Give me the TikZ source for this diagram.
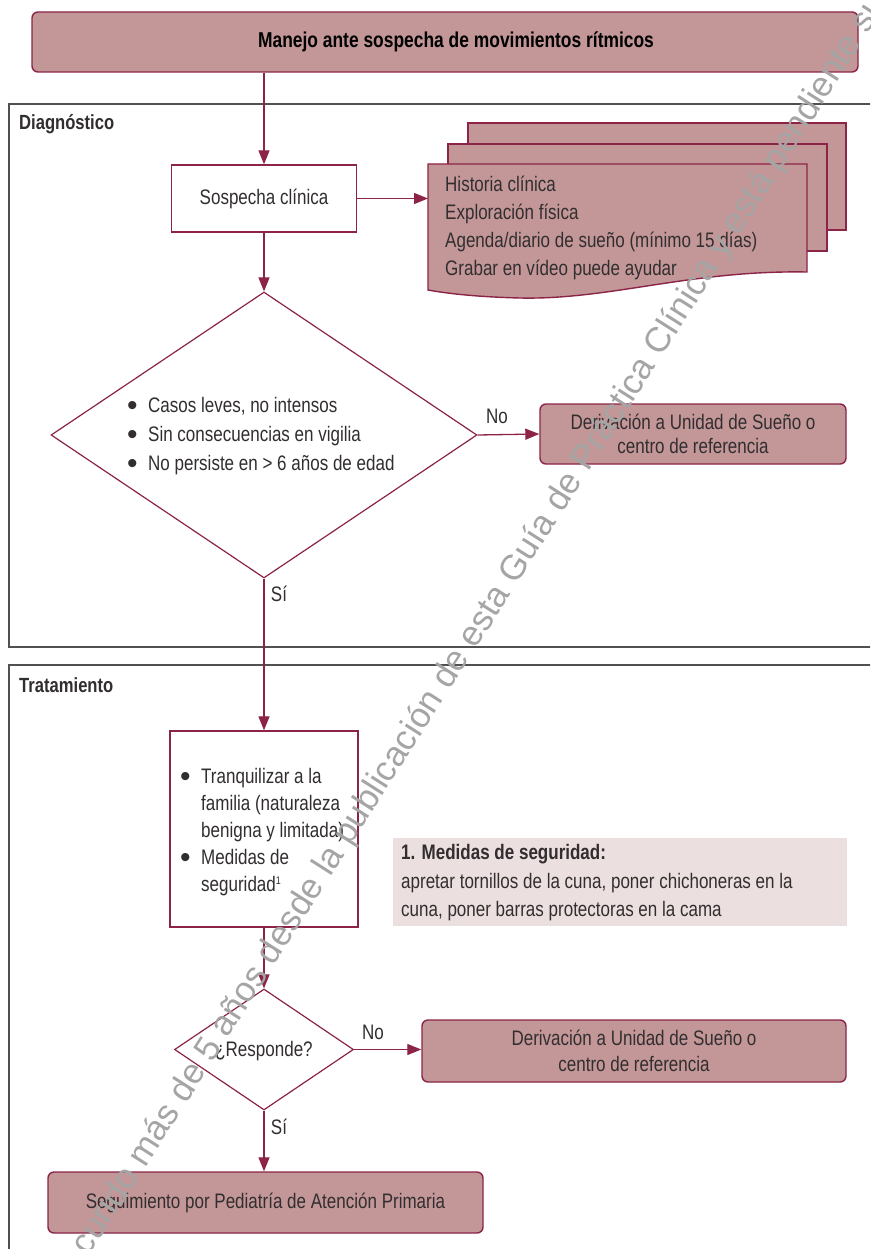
\documentclass[tikz,border=0pt]{standalone}
\usepackage{fontspec}
\setmainfont{Liberation Sans}[FakeStretch=0.81]
\newfontfamily\wmfont{Liberation Sans}
\usetikzlibrary{arrows.meta,shapes.geometric}
\definecolor{maroon}{RGB}{139,36,70}
\definecolor{rose}{RGB}{195,151,152}
\definecolor{notefill}{RGB}{236,223,223}
\definecolor{txt}{RGB}{50,46,48}
\definecolor{framegray}{RGB}{80,80,80}
\definecolor{wmgray}{RGB}{165,165,165}
\newcommand\bul{{\wmfont\fontsize{30}{20}\selectfont\raisebox{-2.6pt}{•}}}
\begin{document}
\begin{tikzpicture}[x=1pt,y=-1pt,
  every node/.style={text=txt, font=\fontsize{21}{24}\selectfont},
  rosebox/.style={draw=maroon, fill=rose, line width=1.4pt, rounded corners=6pt, inner sep=0pt, align=center},
  whitebox/.style={draw=maroon, fill=white, line width=1.4pt, inner sep=0pt},
  decision/.style={draw=maroon, fill=white, line width=1.2pt, diamond, inner sep=0pt},
  conn/.style={draw=maroon, line width=1.3pt, -{Triangle[length=14pt,width=11pt]}},
  framebox/.style={draw=framegray, line width=1.6pt},
  sheet/.style={draw=maroon, fill=rose, line width=1.4pt},
  wm/.style={text=wmgray, font=\wmfont\fontsize{35}{40}\selectfont, inner sep=0pt, rotate=57.5},
]
\useasboundingbox (0,0) rectangle (870,1249);
\clip (0,0) rectangle (870,1249);
\fill[white] (0,0) rectangle (870,1249);

% frames
\draw[framebox] (9,104) rectangle (890,647);
\draw[framebox] (9,665) rectangle (890,1270);
\node[anchor=west, inner sep=0pt, font=\bfseries\fontsize{20.5}{24}\selectfont] (diaglab) at (19,124) {Diagnóstico};
\node[anchor=west, inner sep=0pt, font=\bfseries\fontsize{20.5}{24}\selectfont] (tratlab) at (19,685) {Tratamiento};

% title
\node[rosebox, minimum width=826pt, minimum height=60pt, text=black, font=\bfseries\fontsize{21.5}{24}\selectfont] (title) at (445,42) {\hspace*{22pt}Manejo ante sospecha de movimientos rítmicos};

% sospecha
\node[whitebox, minimum width=185pt, minimum height=67pt] (sosp) at (264,198.5) {Sospecha clínica};

% document stack
\draw[sheet] (468,123) rectangle (846,230);
\draw[sheet] (448,144) rectangle (827,251);
\draw[sheet] (428,164) -- (807,164) -- (807,272) .. controls (690,270) and (610,300) .. (520,298) .. controls (480,297) and (450,294) .. (428,290) -- cycle;
\node[anchor=west, align=left, inner sep=0pt, font=\fontsize{21}{28}\selectfont] (docs) at (445,228) {Historia clínica\\Exploración física\\Agenda/diario de sueño (mínimo 15 días)\\Grabar en vídeo puede ayudar};
\coordinate (docin) at (428,199);

% decision 1
\node[decision, minimum width=426pt, minimum height=286pt] (d1) at (264,435) {};
\node[anchor=west, inner sep=0pt, font=\fontsize{21}{29}\selectfont] (d1txt) at (127,436) {\begin{tabular}{@{}p{21pt}@{}l@{}}\bul&Casos leves, no intensos\\\bul&Sin consecuencias en vigilia\\\bul&No persiste en > 6 años de edad\end{tabular}};

\node[rosebox, minimum width=306pt, minimum height=60pt] (der1) at (693,434) {Derivación a Unidad de Sueño o\\centro de referencia};

% treatment
\node[whitebox, minimum width=188pt, minimum height=196pt] (trat) at (264,829) {};
\node[anchor=west, inner sep=0pt, font=\fontsize{21}{27}\selectfont] (trattxt) at (180,832) {\begin{tabular}{@{}p{21pt}@{}l@{}}\bul&Tranquilizar a la\\&familia (naturaleza\\&benigna y limitada)\\\bul&Medidas de\\&seguridad{\fontsize{11}{11}\selectfont\raisebox{7pt}{1}}\end{tabular}};

\node[fill=notefill, minimum width=454pt, minimum height=88pt, inner sep=0pt] (note) at (620,882) {};
\node[anchor=west, align=left, inner sep=0pt, font=\fontsize{21}{28.5}\selectfont] (notetxt) at (401,883) {{\bfseries 1. Medidas de seguridad:}\\apretar tornillos de la cuna, poner chichoneras en la\\cuna, poner barras protectoras en la cama};

% decision 2
\node[decision, minimum width=179pt, minimum height=121pt] (d2) at (264,1049.5) {};
\node[inner sep=0pt] (d2txt) at (264,1051) {¿Responde?};
\node[rosebox, minimum width=424pt, minimum height=62pt, font=\fontsize{21}{26}\selectfont] (der2) at (634,1051) {Derivación a Unidad de Sueño o\\centro de referencia};
\node[rosebox, minimum width=435pt, minimum height=61pt] (seg) at (265.5,1202.5) {Seguimiento por Pediatría de Atención Primaria};

% connectors
\draw[conn] (title.south -| sosp.north) -- (sosp.north);
\draw[conn] (sosp.east) -- (sosp.east -| docin);
\draw[conn] (sosp.south) -- (d1.north);
\draw[conn] (d1.east) -- (der1.west);
\draw[conn] (d1.south) -- (trat.north);
\draw[conn] (trat.south) -- (d2.north);
\draw[conn] (d2.east) -- (d2.east -| der2.west);
\draw[conn] (d2.south) -- (d2.south |- seg.north);

% labels
\node (no1) at (497,416) {No};
\node (si1) at (279,594) {Sí};
\node (no2) at (373,1032) {No};
\node (si2) at (279,1127) {Sí};

% watermark
\node[wm, anchor=base west] (wm) at (17.7,1368.4) {Ha transcurido más de 5 años desde la publicación de esta Guía de Práctica Clínica y está pendiente su actualización};
\end{tikzpicture}
\end{document}
